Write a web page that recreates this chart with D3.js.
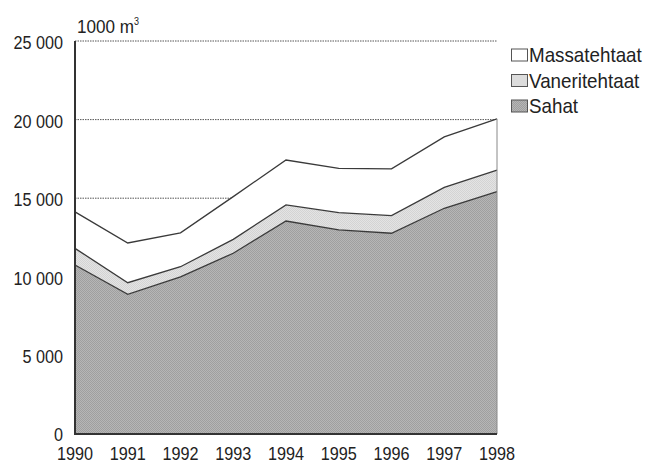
<!DOCTYPE html>
<html>
<head>
<meta charset="utf-8">
<script src="https://cdn.jsdelivr.net/npm/d3@7"></script>
<style>
  body { margin: 0; background: #fff; }
  svg text { font-family: "Liberation Sans", Arial, sans-serif; fill: #222; }
</style>
</head>
<body>
<svg id="chart" width="652" height="463"></svg>
<script>
// values in 1000 m3
var years = [1990, 1991, 1992, 1993, 1994, 1995, 1996, 1997, 1998];
var sahat = [10750, 8880, 10000, 11500, 13550, 12980, 12770, 14360, 15420];
var vaneritehtaat = [1060, 745, 640, 880, 1020, 1100, 1120, 1330, 1370];
var massatehtaat = [2320, 2525, 2160, 2720, 2860, 2820, 2980, 3210, 3260];
var yTicks = [0, 5000, 10000, 15000, 20000, 25000];
var gridTicks = [15000, 20000, 25000];
var seriesNames = ["Sahat", "Vaneritehtaat", "Massatehtaat"];
var legendNames = ["Massatehtaat", "Vaneritehtaat", "Sahat"];

var svg = d3.select("#chart");

// halftone-ish fills, like the printed original
var shades = { Sahat: ["#9f9f9f", "#b6b6b6"], Vaneritehtaat: ["#d3d3d3", "#e4e4e4"] };
var defs = svg.append("defs");
Object.keys(shades).forEach(k => {
  var p = defs.append("pattern")
      .attr("id", "pat-" + k)
      .attr("width", 2).attr("height", 2)
      .attr("patternUnits", "userSpaceOnUse");
  p.append("rect").attr("width", 2).attr("height", 2).attr("fill", shades[k][1]);
  p.append("rect").attr("width", 1).attr("height", 1).attr("fill", shades[k][0]);
  p.append("rect").attr("x", 1).attr("y", 1).attr("width", 1).attr("height", 1).attr("fill", shades[k][0]);
});
var fills = { Sahat: "url(#pat-Sahat)", Vaneritehtaat: "url(#pat-Vaneritehtaat)", Massatehtaat: "#ffffff" };

var x = d3.scaleLinear().domain([1990, 1998]).range([75, 497]);
var y = d3.scaleLinear().domain([0, 25000]).range([434, 41]);

// condensed look: squeeze the text horizontally
var SQ = 0.9;
function place(sel, px, py) {
  return sel.attr("transform", (d, i) => "translate(" + px(d, i) + "," + py(d, i) + ") scale(" + SQ + ",1)");
}

// build table for the stack
var table = years.map((yr, i) => ({
  year: yr,
  Sahat: sahat[i],
  Vaneritehtaat: vaneritehtaat[i],
  Massatehtaat: massatehtaat[i]
}));

var stacked = d3.stack().keys(seriesNames)(table);

// dotted gridlines (areas drawn over them)
svg.selectAll(".grid")
    .data(gridTicks)
  .enter().append("line")
    .attr("x1", x(1990))
    .attr("x2", x(1998))
    .attr("y1", d => y(d))
    .attr("y2", d => y(d))
    .attr("stroke", "#555")
    .attr("stroke-width", 1)
    .attr("stroke-dasharray", "1.5,1");

var area = d3.area()
    .x(d => x(d.data.year))
    .y0(d => y(d[0]))
    .y1(d => y(d[1]));

svg.selectAll(".layer")
    .data(stacked)
  .enter().append("path")
    .attr("d", area)
    .attr("fill", d => fills[d.key]);

var topLine = d3.line()
    .x(d => x(d.data.year))
    .y(d => y(d[1]));

svg.selectAll(".edge")
    .data(stacked)
  .enter().append("path")
    .attr("d", topLine)
    .attr("fill", "none")
    .attr("stroke", "#3a3a3a")
    .attr("stroke-width", 1.3);

// right edge
svg.append("line")
    .attr("x1", x(1998)).attr("x2", x(1998))
    .attr("y1", y(0)).attr("y2", y(d3.sum([sahat[8], vaneritehtaat[8], massatehtaat[8]])))
    .attr("stroke", "#888")
    .attr("stroke-width", 1);

// axes
svg.append("line")
    .attr("x1", x(1990)).attr("x2", x(1990))
    .attr("y1", y(0)).attr("y2", y(25000))
    .attr("stroke", "#333")
    .attr("stroke-width", 2);

svg.append("line")
    .attr("x1", x(1990) - 1).attr("x2", x(1998))
    .attr("y1", y(0)).attr("y2", y(0))
    .attr("stroke", "#333")
    .attr("stroke-width", 2);

var fmt = d => d === 0 ? "0" : d3.format(",")(d).replace(",", " ");

place(svg.selectAll(".ylab")
    .data(yTicks)
  .enter().append("text"), () => 63, d => d === 0 ? y(d) + 7 : y(d) + 8)
    .attr("text-anchor", "end")
    .attr("font-size", 18)
    .text(fmt);

place(svg.selectAll(".xlab")
    .data(years)
  .enter().append("text"), d => x(d), () => 460)
    .attr("text-anchor", "middle")
    .attr("font-size", 18)
    .text(d => d);

// unit label
var unit = place(svg.append("text"), () => 77, () => 33)
    .attr("font-size", 19);
unit.append("tspan").text("1000 m");
unit.append("tspan").attr("font-size", 10).attr("dy", -8).text("3");

// legend
var legend = svg.selectAll(".legend")
    .data(legendNames)
  .enter().append("g")
    .attr("transform", (d, i) => "translate(511," + (55 + i * 25.5) + ")");

legend.append("rect")
    .attr("x", 0.5)
    .attr("y", -6)
    .attr("width", 16)
    .attr("height", 12)
    .attr("fill", d => fills[d])
    .attr("stroke", "#555")
    .attr("stroke-width", 1);

legend.append("text")
    .attr("transform", "translate(18,7) scale(0.94,1)")
    .attr("font-size", 20)
    .text(d => d);
</script>
</body>
</html>
